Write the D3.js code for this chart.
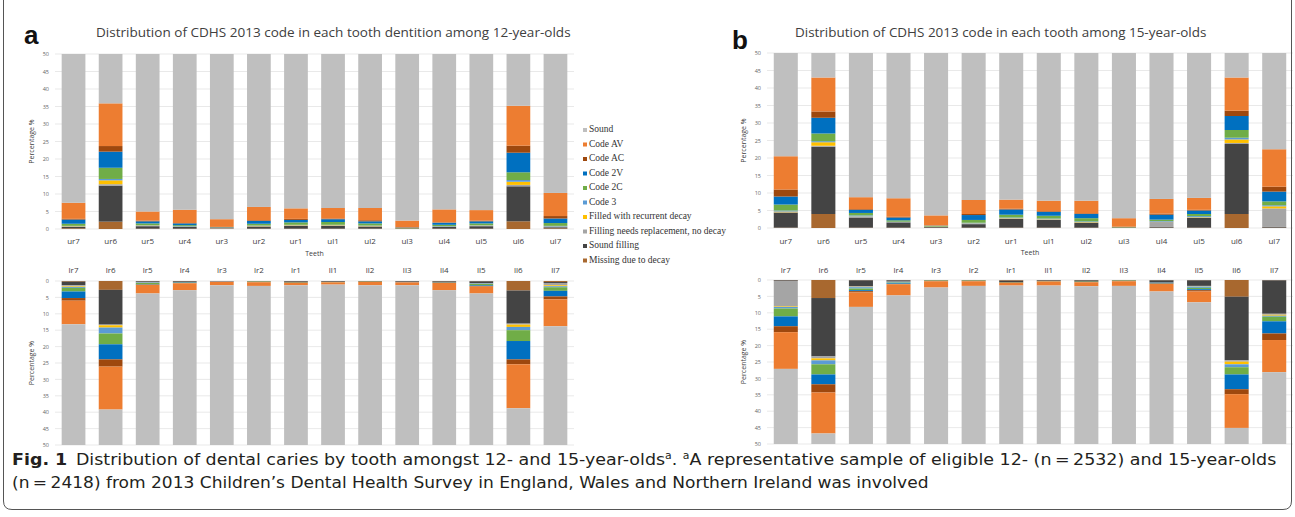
<!DOCTYPE html>
<html><head><meta charset="utf-8">
<script src="https://cdn.jsdelivr.net/npm/d3@7"></script>
<style>body{margin:0;background:#fff}svg{display:block}</style>
</head><body>
<svg id="chart" width="1295" height="517"></svg>
<script>
// ---------- DATA ----------
const teethUpper = ["ur7","ur6","ur5","ur4","ur3","ur2","ur1","ul1","ul2","ul3","ul4","ul5","ul6","ul7"];
const teethLower = ["lr7","lr6","lr5","lr4","lr3","lr2","lr1","ll1","ll2","ll3","ll4","ll5","ll6","ll7"];
// stacking order from the baseline outwards
const seriesNames = ["Missing due to decay","Sound filling","Filling needs replacement, no decay","Filled with recurrent decay","Code 3","Code 2C","Code 2V","Code AC","Code AV","Sound"];
const seriesColors = ["#A8682F","#444444","#A5A5A5","#FFC000","#5B9BD5","#70AD47","#0070C0","#9E480E","#ED7D31","#BFBFBF"];
const legendOrder = ["Sound","Code AV","Code AC","Code 2V","Code 2C","Code 3","Filled with recurrent decay","Filling needs replacement, no decay","Sound filling","Missing due to decay"];
const yTicks = [0,5,10,15,20,25,30,35,40,45,50];

// percentages; one row per series (order of seriesNames), one column per tooth
const age12Upper = [
  [0.2,2.1,0.1,0.1,0.1,0.1,0.1,0.1,0.1,0.1,0.1,0.1,2.2,0.2],
  [0.4,10.3,0.7,0.5,0.1,0.6,0.8,0.8,0.6,0.1,0.5,0.7,10.0,0.3],
  [0.1,0.4,0.1,0.1,0.1,0.1,0.1,0.1,0.1,0,0.1,0.1,0.4,0.1],
  [0.1,1.1,0.1,0,0,0.1,0.1,0.1,0.1,0,0,0.1,0.9,0.1],
  [0.1,0.4,0.1,0.1,0,0.1,0.1,0.1,0.1,0,0.1,0.1,0.5,0.2],
  [0.6,3.2,0.5,0.3,0.1,0.5,0.7,0.8,0.6,0.1,0.4,0.5,2.2,0.8],
  [1.2,4.6,0.6,0.5,0.1,0.8,0.7,0.8,0.6,0.1,0.6,0.6,5.6,1.3],
  [0.2,1.6,0.2,0.1,0.1,0.2,0.3,0.2,0.3,0.1,0.1,0.2,2.0,0.7],
  [4.6,12.2,2.6,3.8,2.2,3.8,3.0,3.0,3.5,1.9,3.7,3.0,11.4,6.6],
  [92.5,64.1,95.0,94.5,97.2,93.7,94.1,94.0,94.0,97.6,94.4,94.6,64.8,89.7]
];
const age12Lower = [
  [0.2,2.7,0.1,0.1,0,0.1,0.1,0.1,0,0.1,0.1,0.1,2.9,0.3],
  [1.1,10.6,0.3,0.3,0.1,0.1,0.3,0.2,0.1,0.2,0.2,0.6,10.1,0.3],
  [0.3,0.2,0.1,0,0,0,0,0,0,0,0,0.1,0.3,0.7],
  [0.2,0.7,0,0,0,0,0,0,0,0,0,0,0.7,0.3],
  [0.3,1.8,0.1,0,0,0,0,0,0,0,0,0.1,1.0,0.3],
  [1.1,3.3,0.4,0.1,0,0.1,0.1,0.1,0.1,0,0.1,0.4,3.3,1.1],
  [2.0,4.6,0.1,0.1,0.1,0,0,0,0,0.1,0.1,0.2,5.6,1.7],
  [0.8,2.2,0.1,0.1,0,0.1,0.1,0,0.1,0,0.1,0.2,1.5,0.9],
  [7.2,13.1,2.6,2.1,1.1,1.1,0.7,0.7,1.0,0.9,2.2,2.1,13.4,8.2],
  [86.8,60.8,96.2,97.2,98.7,98.5,98.7,98.9,98.7,98.7,97.2,96.2,61.2,86.2]
];
const age15Upper = [
  [0.1,4.0,0.1,0.1,0.1,0.1,0.1,0.1,0.1,0.1,0.1,0.1,4.0,0.1],
  [4.3,19.2,2.9,1.5,0.2,1.0,2.5,2.2,1.4,0.1,0.2,2.8,20.0,0.2],
  [0.1,0.3,0.2,0.1,0.1,0.1,0.1,0.1,0.1,0,1.4,0.1,0.3,5.3],
  [0.2,1.0,0.1,0,0,0.1,0.1,0.1,0.1,0,0.1,0.1,1.0,0.6],
  [0.3,0.3,0.3,0.1,0,0.2,0.2,0.2,0.2,0,0.2,0.3,0.5,0.3],
  [1.7,2.2,0.7,0.4,0.2,0.8,0.8,0.8,0.9,0.1,0.4,0.6,2.2,1.1],
  [2.3,4.5,0.9,0.8,0.1,1.4,1.5,1.1,1.2,0,1.4,1.0,4.0,2.8],
  [2.0,1.8,0.2,0.2,0,0.3,0.2,0.2,0.2,0.1,0.3,0.2,1.5,1.4],
  [9.5,9.7,3.4,5.3,2.9,4.0,2.6,3.0,3.6,2.4,4.2,3.4,9.5,10.7],
  [79.5,57.0,91.2,91.5,96.4,92.0,91.9,92.2,92.2,97.2,91.7,91.4,57.0,77.5]
];
const age15Lower = [
  [0.1,5.5,0.1,0.1,0.1,0.1,0.2,0.1,0.1,0.1,0.1,0.1,5.1,0.1],
  [0.2,17.8,1.8,0.4,0.1,0.1,0.5,0.2,0.4,0.1,0.7,1.7,19.4,10.2],
  [7.7,0.6,0.2,0.1,0,0,0,0,0,0,0,0.1,0.4,0.3],
  [0.2,0.6,0.1,0,0,0,0,0,0,0,0,0.1,0.8,0.3],
  [0.5,1.2,0.4,0.2,0,0,0,0,0,0,0.1,0.4,0.9,0.3],
  [2.4,3.1,0.5,0.2,0.1,0.1,0.1,0.1,0.1,0.1,0.1,0.4,2.2,1.4],
  [3.0,3.0,0.3,0.2,0,0,0,0,0,0,0.1,0.3,4.5,3.7],
  [1.8,2.5,0.4,0.1,0.1,0.1,0.1,0.1,0.1,0.1,0.1,0.4,1.5,2.0],
  [11.2,12.5,4.4,3.4,1.9,1.4,0.8,1.2,1.2,1.4,2.3,3.3,10.3,9.8],
  [72.9,53.2,91.8,95.3,97.7,98.2,98.3,98.3,98.1,98.2,96.5,93.2,54.9,71.9]
];

// ---------- DRAWING ----------
const svg = d3.select("#chart");
const sans = "'Open Sans','Liberation Sans',Arial,sans-serif";

function drawPanel(o) {
  const g = svg.append("g");
  const x = d3.scaleBand().domain(o.teeth).range([o.x0, o.x1]).paddingInner(0.36).paddingOuter(0.18);
  const y = d3.scaleLinear().domain([0, 50]).range([o.yZero, o.yFifty]);
  // gridlines
  g.append("g").selectAll("line").data(yTicks).join("line")
    .attr("x1", o.x0).attr("x2", o.x1)
    .attr("y1", d => y(d)).attr("y2", d => y(d))
    .attr("stroke", "#E3E3E3").attr("stroke-width", 0.8);
  // stacked data
  const rows = o.teeth.map((t, i) => { const r = {tooth: t}; o.data.forEach((s, k) => r[k] = s[i]); return r; });
  const stack = d3.stack().keys(d3.range(seriesNames.length))(rows);
  g.append("g").selectAll("g").data(stack).join("g")
    .attr("fill", (d, k) => seriesColors[k])
    .selectAll("rect").data(d => d).join("rect")
    .attr("x", d => x(d.data.tooth)).attr("width", x.bandwidth())
    .attr("y", d => Math.min(y(d[0]), y(Math.min(d[1], 50))))
    .attr("height", d => Math.abs(y(Math.min(d[1], 50)) - y(d[0])));
  // y axis
  const ya = g.append("g").attr("transform", `translate(${o.x0 - 4},0)`)
    .call(d3.axisLeft(y).tickValues(yTicks).tickSize(0).tickPadding(2));
  ya.select(".domain").remove();
  ya.selectAll("text").attr("fill", "#666").style("fill", "#666").style("font-size", "5.5px").style("font-family", sans);
  // x axis labels
  const xa = g.append("g").attr("transform", `translate(0,${o.xLabY})`)
    .call(d3.axisBottom(x).tickSize(0).tickPadding(0));
  xa.select(".domain").remove();
  xa.selectAll("text").attr("fill", "#404040").style("fill", "#404040").style("font-size", "8px")
    .style("font-family", sans).attr("dy", "0.32em");
  // y label
  g.append("text").attr("transform", `translate(${o.yLabX},${(o.yZero + o.yFifty) / 2}) rotate(-90)`)
    .attr("text-anchor", "middle").attr("fill", "#404040").style("font-size", "7px").style("font-family", sans)
    .text("Percentage %");
  if (o.teethLabel) {
    g.append("text").attr("x", (o.x0 + o.x1) / 2).attr("y", o.teethLabel).attr("text-anchor", "middle")
      .attr("fill", "#404040").style("font-size", "7px").style("font-family", sans).text("Teeth");
  }
}

drawPanel({teeth: teethUpper, data: age12Upper, x0: 55, x1: 574, yZero: 229, yFifty: 54, xLabY: 241, yLabX: 34, teethLabel: 256});
drawPanel({teeth: teethLower, data: age12Lower, x0: 55, x1: 574, yZero: 281, yFifty: 445, xLabY: 270, yLabX: 34});
drawPanel({teeth: teethUpper, data: age15Upper, x0: 767, x1: 1293, yZero: 228, yFifty: 53, xLabY: 241, yLabX: 746, teethLabel: 255});
drawPanel({teeth: teethLower, data: age15Lower, x0: 767, x1: 1293, yZero: 280, yFifty: 444, xLabY: 270, yLabX: 746});

// titles
function fitText(sel, width) {
  const w = sel.node().getComputedTextLength();
  const x = +sel.attr("x"), yv = +sel.attr("y");
  sel.attr("x", 0).attr("y", 0).attr("transform", `translate(${x},${yv}) scale(${width / w},1)`);
}
const t1 = svg.append("text").attr("x", 96).attr("y", 37).attr("fill", "#404040")
  .style("font-size", "13px").style("font-family", sans)
  .text("Distribution of CDHS 2013 code in each tooth dentition among 12-year-olds");
fitText(t1, 475);
const t2 = svg.append("text").attr("x", 795).attr("y", 37).attr("fill", "#404040")
  .style("font-size", "13px").style("font-family", sans)
  .text("Distribution of CDHS 2013 code in each tooth among 15-year-olds");
fitText(t2, 412);

svg.append("text").attr("x", 24).attr("y", 44).style("font-family", "'Liberation Sans',Arial,sans-serif")
  .style("font-weight", "bold").style("font-size", "26px").attr("fill", "#111").text("a");
svg.append("text").attr("x", 732).attr("y", 49).style("font-family", "'Liberation Sans',Arial,sans-serif")
  .style("font-weight", "bold").style("font-size", "26px").attr("fill", "#111").text("b");

// legend
const leg = svg.append("g").attr("transform", "translate(583,132)");
legendOrder.forEach((name, i) => {
  const k = seriesNames.indexOf(name);
  const r = leg.append("g").attr("transform", `translate(0,${i * 14.5})`);
  r.append("rect").attr("x", 0).attr("y", -4).attr("width", 4).attr("height", 4).attr("fill", seriesColors[k]);
  r.append("text").attr("x", 6).attr("y", 0).attr("fill", "#333")
    .style("font-family", "'Liberation Serif','Times New Roman',serif").style("font-size", "9.5px").text(name);
});

// frame
svg.append("path")
  .attr("d", "M3.5,0 V501 Q3.5,509.5 12,509.5 H1283 Q1291.5,509.5 1291.5,501 V0")
  .attr("fill", "none").attr("stroke", "#555").attr("stroke-width", 1);

// caption
const capFont = "'Liberation Sans Narrow','DejaVu Sans Condensed','Roboto Condensed',Arial,sans-serif";
const c1 = svg.append("text").attr("x", 12).attr("y", 465).attr("fill", "#231F20")
  .style("font-family", capFont).style("font-size", "16px");
c1.append("tspan").style("font-weight", "bold").text("Fig. 1");
c1.append("tspan").text("\u2002Distribution of dental caries by tooth amongst 12- and 15-year-olds");
c1.append("tspan").attr("dy", -6).style("font-size", "10px").text("a");
c1.append("tspan").attr("dy", 6).text(". ");
c1.append("tspan").attr("dy", -6).style("font-size", "10px").text("a");
c1.append("tspan").attr("dy", 6).text("A representative sample of eligible 12- (n\u2009=\u20092532) and 15-year-olds");
fitText(c1, 1266);
const c2 = svg.append("text").attr("x", 12).attr("y", 488).attr("fill", "#231F20")
  .style("font-family", capFont).style("font-size", "16px")
  .text("(n\u2009=\u20092418) from 2013 Children\u2019s Dental Health Survey in England, Wales and Northern Ireland was involved");
fitText(c2, 917);
</script>
</body></html>
